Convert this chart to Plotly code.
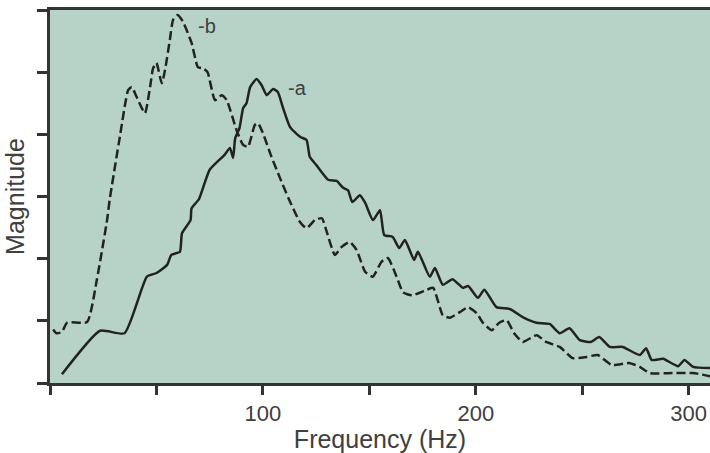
import plotly.graph_objects as go

# Curve a (solid)
freq_a = [5.6, 23.5, 35, 45.5, 50, 55, 57, 61, 62, 66, 66.5, 70, 75, 82, 84.5, 86, 87, 89, 90.7,
          92.3, 94, 97, 99.4, 101.8, 104.8, 107, 109.5, 112.7, 117.4, 120.5, 122, 125, 130.6,
          134.6, 137.7, 140, 142, 145.5, 148, 151.7, 155, 157, 161, 164, 166.7, 171, 172.8,
          178.4, 180.8, 184.5, 189, 194, 196.4, 201, 204, 209.7, 216, 222, 228.5, 234.7, 239.4,
          244, 248.8, 254, 258, 263, 269, 277, 280, 282.6, 288, 295, 298, 302, 310]
mag_a = [0.14, 0.84, 0.80, 1.71, 1.77, 1.90, 2.06, 2.11, 2.41, 2.62, 2.81, 2.96, 3.43, 3.67, 3.78,
         3.62, 3.94, 4.10, 4.42, 4.50, 4.76, 4.89, 4.79, 4.63, 4.73, 4.68, 4.42, 4.12, 3.96, 3.91,
         3.64, 3.51, 3.27, 3.25, 3.14, 3.10, 2.91, 3.02, 2.90, 2.62, 2.78, 2.38, 2.35, 2.17, 2.30,
         1.98, 2.11, 1.71, 1.85, 1.58, 1.67, 1.53, 1.56, 1.37, 1.50, 1.22, 1.19, 1.06, 0.97, 0.95,
         0.80, 0.88, 0.69, 0.66, 0.74, 0.58, 0.58, 0.45, 0.56, 0.37, 0.39, 0.27, 0.37, 0.26, 0.24]

# Curve b (dashed)
freq_b = [1.5, 3, 5.6, 8, 17.4, 22, 26.8, 28, 33, 36.7, 38.4, 40.7, 44.6, 47, 48.4, 50, 52.5, 54,
          56.3, 57.8, 60, 62.5, 66.5, 69.5, 72, 74, 77.5, 80.6, 83, 87.6, 90.7, 93, 96.2, 97.7, 100,
          104, 108, 111.9, 117.4, 120.5, 124.4, 127.7, 130, 133.8, 137, 140.8, 144, 148, 151.6,
          155.7, 158.7, 162.8, 165.8, 170, 177, 180, 184.5, 187.8, 192.5, 196.4, 200.5, 203.3,
          207.5, 211, 214.5, 218, 222, 228.6, 233, 239.4, 245.5, 252, 257.3, 263.8, 272, 277,
          281.7, 292.5, 302, 310]
mag_b = [0.86, 0.80, 0.82, 0.97, 0.98, 1.66, 2.62, 2.94, 4.00, 4.71, 4.76, 4.60, 4.34, 4.76, 5.06,
         5.15, 4.82, 5.03, 5.52, 5.84, 5.92, 5.81, 5.47, 5.08, 5.06, 5.00, 4.55, 4.63, 4.55, 4.07,
         3.83, 3.80, 4.15, 4.18, 4.02, 3.64, 3.30, 2.98, 2.59, 2.49, 2.62, 2.65, 2.43, 2.06, 2.19,
         2.27, 2.14, 1.79, 1.71, 1.95, 2.01, 1.71, 1.46, 1.41, 1.50, 1.53, 1.09, 1.05, 1.14, 1.22,
         1.12, 0.97, 0.85, 0.97, 1.01, 0.80, 0.66, 0.77, 0.66, 0.58, 0.40, 0.42, 0.45, 0.29, 0.32,
         0.26, 0.16, 0.16, 0.16, 0.11]

x_tickvals = [0, 50, 100, 150, 200, 250, 300]
x_ticktext = ["", "", "100", "", "200", "", "300"]
y_tickvals = [0, 1, 2, 3, 4, 5, 6]

labels = ["-a", "-b"]
label_x = [116, 73.7]
label_y = [4.71, 5.71]

ink = "#222222"
txt = "#404040"
font = "Liberation Sans, Arial, sans-serif"

fig = go.Figure()
fig.add_trace(go.Scatter(x=freq_a, y=mag_a, mode="lines",
                         line=dict(color=ink, width=2.5, shape="spline", smoothing=0.5),
                         showlegend=False, hoverinfo="skip"))
fig.add_trace(go.Scatter(x=freq_b, y=mag_b, mode="lines",
                         line=dict(color=ink, width=2.5, dash="9px,4px", shape="spline", smoothing=0.5),
                         showlegend=False, hoverinfo="skip"))
fig.add_trace(go.Scatter(x=label_x, y=label_y, mode="text", text=labels,
                         textfont=dict(family=font, size=20, color=txt),
                         showlegend=False, hoverinfo="skip"))

fig.update_layout(
    width=710, height=453,
    margin=dict(l=50, r=0, t=10, b=70),
    paper_bgcolor="white",
    plot_bgcolor="#b7d3c8",
    font=dict(family=font, color=txt, size=21),
)
fig.update_xaxes(
    range=[0, 310], showgrid=False, zeroline=False, automargin=False,
    showline=True, linecolor="#333333", linewidth=2.5, mirror=True,
    ticks="outside", ticklen=9, tickwidth=2.5, tickcolor="#333333",
    tickvals=x_tickvals, ticktext=x_ticktext,
    tickfont=dict(size=22, color=txt),
    title=dict(text="Frequency (Hz)", font=dict(size=25, color=txt), standoff=4),
)
fig.update_yaxes(
    range=[0, 6], showgrid=False, zeroline=False, automargin=False,
    showline=True, linecolor="#333333", linewidth=2.5,
    ticks="outside", ticklen=10, tickwidth=2.5, tickcolor="#333333",
    tickvals=y_tickvals, showticklabels=False,
    title=dict(text="Magnitude", font=dict(size=25, color=txt), standoff=6),
)

fig.write_html("out.html", config={"displayModeBar": False},
               post_script="document.body.style.margin='0';document.body.style.overflow='hidden';")
